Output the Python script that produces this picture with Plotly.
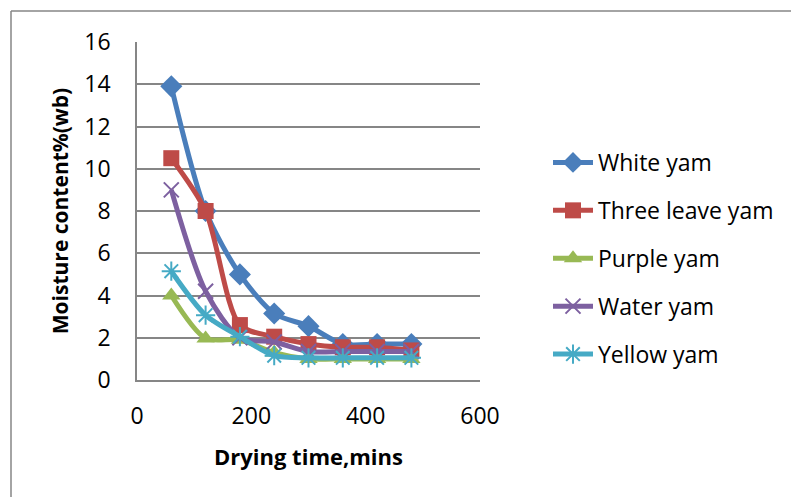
import plotly.graph_objects as go

time_min = [60, 120, 180, 240, 300, 360, 420, 480]
white_yam = [13.9, 8.0, 5.0, 3.15, 2.55, 1.7, 1.7, 1.7]
three_leave_yam = [10.5, 8.0, 2.6, 2.05, 1.7, 1.55, 1.55, 1.4]
purple_yam = [4.0, 1.97, 1.9, 1.3, 1.0, 1.0, 1.0, 1.0]
water_yam = [9.0, 4.2, 2.0, 1.8, 1.35, 1.35, 1.35, 1.35]
yellow_yam = [5.15, 3.07, 2.05, 1.15, 1.05, 1.05, 1.05, 1.05]

series = [
    ("White yam", white_yam, "#4A7EBB", dict(symbol="diamond", size=17)),
    ("Three leave yam", three_leave_yam, "#BE4B48", dict(symbol="square", size=16)),
    ("Purple yam", purple_yam, "#98B954", dict(symbol="triangle-up", size=16)),
    ("Water yam", water_yam, "#7D60A0", dict(symbol="x-thin-open", size=15, line=dict(width=2, color="#7D60A0"))),
    ("Yellow yam", yellow_yam, "#46AAC5", dict(symbol="asterisk-open", size=16, line=dict(width=2, color="#46AAC5"))),
]

fig = go.Figure()
for i, (name, vals, color, mk) in enumerate(series):
    fig.add_trace(go.Scatter(
        x=time_min, y=vals, name=name, mode="lines+markers",
        line=dict(color=color, width=5, shape="spline", smoothing=0.8),
        marker=dict(color=color, **mk),
        legendgroup=f"g{i}",
    ))

L, R, T, B = 137, 480, 42, 380
W, H = 791, 497
fx = lambda px: (px - L) / (R - L)
fy = lambda py: (B - py) / (B - T)

fig.update_layout(
    width=W, height=H,
    margin=dict(l=L, r=W - R, t=T, b=H - B, pad=0),
    paper_bgcolor="white", plot_bgcolor="white",
    font=dict(family="Open Sans, Liberation Sans, sans-serif", size=23, color="black"),
    showlegend=True,
    legend=dict(
        x=fx(548), y=fy(141), xanchor="left", yanchor="top",
        font=dict(size=23, color="black"),
        tracegroupgap=15, itemwidth=40, bgcolor="rgba(0,0,0,0)",
    ),
    xaxis=dict(
        range=[0, 600], tickvals=[0, 200, 400, 600], showgrid=False,
        showline=True, linecolor="#868686", linewidth=1.5, ticks="",
        title=dict(text="<b>Drying time,mins</b>", font=dict(size=22), standoff=19),
        zeroline=False, tickfont=dict(size=23), ticklabelstandoff=15,
    ),
    yaxis=dict(
        range=[0, 16], tickvals=list(range(0, 17, 2)), showgrid=True,
        gridcolor="#868686", gridwidth=1.5, showline=True, linecolor="#868686",
        linewidth=1.5, ticks="", zeroline=False,
        title=dict(text="<b>Moisture content%(wb)</b>", font=dict(size=21), standoff=10),
        tickfont=dict(size=23), ticklabelstandoff=20,
    ),
    shapes=[
        dict(type="line", xref="paper", yref="paper", x0=fx(11), x1=fx(800), y0=fy(11), y1=fy(11),
             line=dict(color="#868686", width=1.5)),
        dict(type="line", xref="paper", yref="paper", x0=fx(11), x1=fx(11), y0=fy(11), y1=fy(510),
             line=dict(color="#868686", width=1.5)),
    ],
)

fig.write_html("out.html")
